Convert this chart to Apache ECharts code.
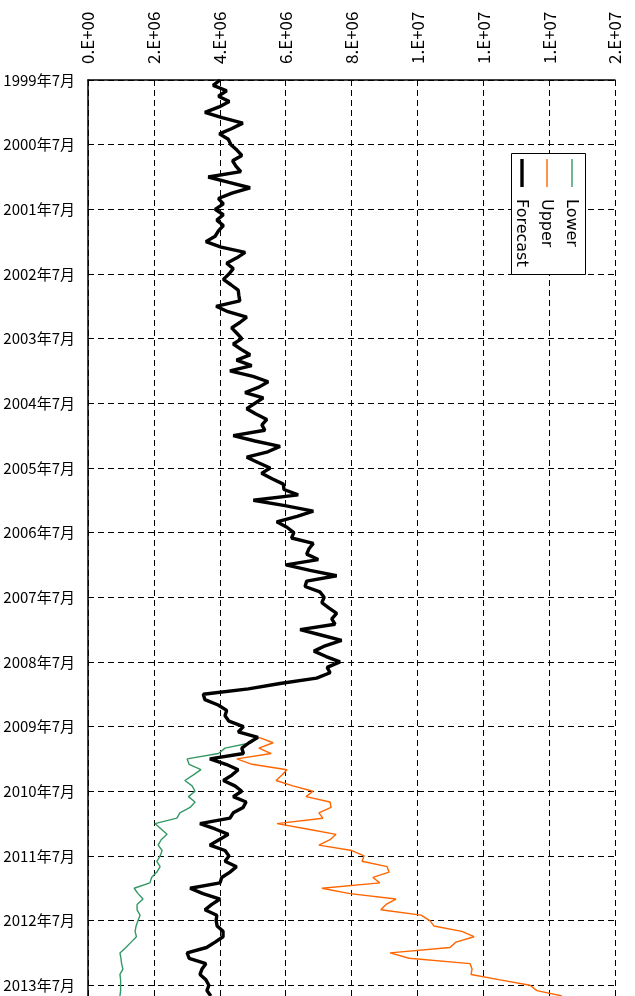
<!DOCTYPE html>
<html>
<head>
<meta charset="utf-8">
<script src="https://cdn.jsdelivr.net/npm/echarts@6/dist/echarts.min.js"></script>
<style>
  html, body { margin: 0; padding: 0; background: #fff; }
  #chart { width: 635px; height: 996px; }
</style>
</head>
<body>
<div id="chart"></div>
<script>
// Monthly series, values in millions, first month 1999年7月
const startYear = 1999;
const startMonth = 7;
const monthCount = 171;

const forecast = [
  4.01, 3.80, 4.21, 3.96, 4.29, 3.98, 3.55, 4.07, 4.70, 4.37, 3.99, 4.26,
  4.34, 4.52, 4.67, 4.39, 4.49, 4.64, 3.65, 4.28, 4.92, 4.37, 3.96, 4.11,
  3.86, 4.11, 3.91, 4.11, 3.96, 3.86, 3.58, 4.04, 4.77, 4.52, 4.21, 4.41,
  4.28, 4.11, 4.34, 4.56, 4.58, 4.61, 3.89, 4.25, 4.82, 4.61, 4.36, 4.52,
  4.67, 4.41, 4.65, 4.92, 4.51, 4.97, 4.31, 5.01, 5.47, 5.19, 4.77, 5.32,
  5.07, 4.82, 5.10, 5.43, 5.28, 5.37, 4.41, 5.07, 5.83, 5.46, 4.82, 5.16,
  5.53, 5.27, 5.59, 5.93, 5.95, 6.38, 5.02, 5.98, 6.84, 6.35, 5.73, 6.04,
  6.25, 6.18, 6.84, 6.71, 6.64, 6.99, 6.01, 6.74, 7.55, 6.64, 6.59, 7.04,
  7.17, 7.10, 7.32, 7.55, 7.40, 7.50, 6.44, 7.07, 7.70, 7.20, 6.86, 7.23,
  7.65, 7.26, 7.35, 6.94, 5.83, 4.87, 3.50, 3.55, 3.95, 4.21, 4.16, 4.28,
  4.72, 4.56, 5.16, 4.89, 4.67, 4.72, 3.70, 4.19, 4.56, 4.37, 4.11, 4.46,
  4.67, 4.41, 4.80, 4.71, 4.41, 4.31, 3.40, 3.86, 4.26, 3.98, 3.70, 4.16,
  4.28, 4.16, 4.51, 4.31, 4.06, 4.01, 3.10, 3.49, 4.01, 3.76, 3.55, 3.91,
  3.89, 3.92, 4.10, 4.10, 3.86, 3.60, 3.01, 3.07, 3.58, 3.46, 3.40, 3.58,
  3.67, 3.61, 3.73
];

// Bounds begin at 2009年9月
const boundStartIndex = 122;
const upper = [
  5.19, 5.62, 5.19, 5.56, 4.52, 4.98, 6.04, 5.89, 5.71, 6.22, 6.83, 6.62,
  7.35, 7.38, 7.01, 7.13, 5.74, 6.65, 7.53, 7.35, 7.01, 8.01, 8.38, 8.32,
  9.08, 9.14, 8.65, 8.86, 7.10, 7.95, 9.35, 9.05, 8.89, 10.11, 10.38, 10.50,
  11.35, 11.72, 11.17, 10.99, 9.17, 9.75, 11.60, 11.66, 11.63, 12.51, 13.42, 13.63,
  14.39
];
const lower = [
  5.13, 4.95, 4.16, 3.96, 3.01, 3.07, 3.43, 3.19, 2.94, 3.16, 3.25, 3.05,
  3.25, 3.10, 2.79, 2.70, 2.03, 2.22, 2.40, 2.22, 2.13, 2.25, 2.19, 2.09,
  2.19, 2.09, 1.93, 1.88, 1.40, 1.52, 1.67, 1.49, 1.49, 1.58, 1.52, 1.46,
  1.43, 1.47, 1.31, 1.15, 0.97, 1.00, 1.02, 1.06, 0.97, 0.99, 0.99, 0.99,
  0.97
];

const valueTickLabels = ['0.E+00', '2.E+06', '4.E+06', '6.E+06', '8.E+06', '1.E+07', '1.E+07', '1.E+07', '2.E+07'];
const valueMax = 16;
const valueStep = 2;

const months = [];
for (let k = 0; k < monthCount; k++) {
  const m = startMonth - 1 + k;
  months.push((startYear + Math.floor(m / 12)) + '年' + (m % 12 + 1) + '月');
}
const isJuly = (idx) => (idx % 12) === 0;

const padBounds = (arr) => new Array(boundStartIndex).fill(null).concat(arr);

const chart = echarts.init(document.getElementById('chart'), null, { renderer: 'canvas' });

const dashed = { color: '#000', width: 1, type: [6, 4] };
const legendFont = '16px "DejaVu Sans", sans-serif';

chart.setOption({
  animation: false,
  backgroundColor: '#fff',
  grid: { left: 88, right: 20, top: 80, bottom: 0, containLabel: false },
  xAxis: {
    type: 'value',
    position: 'top',
    min: 0,
    max: valueMax,
    interval: valueStep,
    axisLine: { show: true, lineStyle: { color: '#000', width: 1.5 } },
    axisTick: { show: true, inside: true, length: 5, lineStyle: { color: '#000' } },
    axisLabel: {
      rotate: -90,
      margin: 16,
      color: '#000',
      fontSize: 17,
      fontFamily: '"Noto Sans CJK JP", sans-serif',
      formatter: (v) => valueTickLabels[Math.round(v / valueStep)]
    },
    splitLine: { show: true, lineStyle: dashed }
  },
  yAxis: {
    type: 'category',
    inverse: true,
    boundaryGap: false,
    data: months,
    axisLine: { show: true, lineStyle: { color: '#000', width: 1.5 } },
    axisTick: { show: true, inside: true, length: 5, interval: isJuly, lineStyle: { color: '#000' } },
    axisLabel: {
      interval: isJuly,
      margin: 13,
      color: '#000',
      fontSize: 15,
      fontFamily: '"Noto Sans CJK JP", sans-serif'
    },
    splitLine: { show: true, interval: isJuly, lineStyle: dashed }
  },
  series: [
    {
      name: 'Lower', type: 'line', data: padBounds(lower), showSymbol: false,
      lineStyle: { color: '#339966', width: 1.4 }, itemStyle: { color: '#339966' }
    },
    {
      name: 'Upper', type: 'line', data: padBounds(upper), showSymbol: false,
      lineStyle: { color: '#ff6600', width: 1.4 }, itemStyle: { color: '#ff6600' }
    },
    {
      name: 'Forecast', type: 'line', data: forecast, showSymbol: false,
      lineStyle: { color: '#000', width: 3.4 }, itemStyle: { color: '#000' }
    }
  ],
  graphic: [
    {
      type: 'rect',
      shape: { x: 511.5, y: 153.5, width: 74, height: 121 },
      style: { fill: '#fff', stroke: '#000', lineWidth: 1 },
      z: 100
    },
    { type: 'line', shape: { x1: 572, y1: 159, x2: 572, y2: 187 }, style: { stroke: '#339966', lineWidth: 1.4 }, z: 101 },
    { type: 'line', shape: { x1: 547, y1: 159, x2: 547, y2: 187 }, style: { stroke: '#ff6600', lineWidth: 1.4 }, z: 101 },
    { type: 'line', shape: { x1: 522, y1: 159, x2: 522, y2: 187 }, style: { stroke: '#000', lineWidth: 3.4 }, z: 101 },
    { type: 'text', x: 571, y: 199, rotation: -Math.PI / 2, style: { text: 'Lower', font: legendFont, fill: '#000', align: 'left', verticalAlign: 'middle' }, z: 101 },
    { type: 'text', x: 546, y: 199, rotation: -Math.PI / 2, style: { text: 'Upper', font: legendFont, fill: '#000', align: 'left', verticalAlign: 'middle' }, z: 101 },
    { type: 'text', x: 521, y: 199, rotation: -Math.PI / 2, style: { text: 'Forecast', font: legendFont, fill: '#000', align: 'left', verticalAlign: 'middle' }, z: 101 }
  ]
});
</script>
</body>
</html>
